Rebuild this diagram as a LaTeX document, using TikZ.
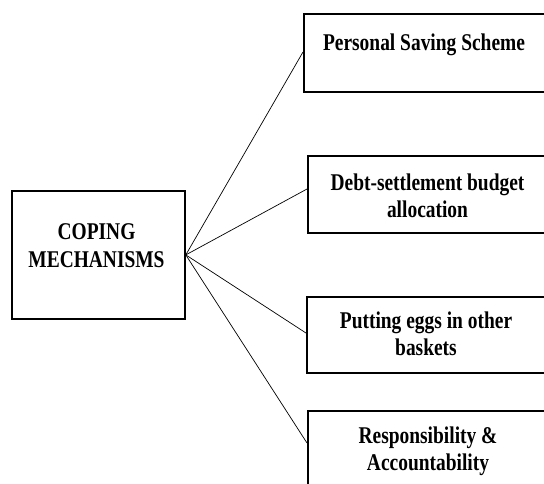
\documentclass[tikz,border=0pt]{standalone}
\usepackage{fontspec}
\setmainfont{Liberation Serif}[FakeStretch=0.81]
\usetikzlibrary{calc}
\begin{document}
\begin{tikzpicture}[x=1pt,y=-1pt,
  frame/.style={draw=black,line width=1.8pt,rectangle,inner sep=0pt,anchor=north west},
  label/.style={anchor=base,align=center,inner sep=0pt,
    font=\fontsize{24}{27}\selectfont\bfseries},
  link/.style={draw=black,line width=0.7pt}]
\useasboundingbox (0,0) rectangle (544,483);
\clip (0,0) rectangle (544,483);

% central box
\node[frame,minimum width=173pt,minimum height=128pt] (cope) at (11,190) {};
\node[label,font=\fontsize{24}{28}\selectfont\bfseries] (copetxt) at (96.5,267) {COPING\\MECHANISMS};

% strategy boxes (they run past the right edge)
\node[frame,minimum width=249pt,minimum height=78pt] (b1) at (303,13) {};
\node[frame,minimum width=245pt,minimum height=77pt] (b2) at (307,155) {};
\node[frame,minimum width=246pt,minimum height=76pt] (b3) at (306,296) {};
\node[frame,minimum width=245pt,minimum height=90pt] (b4) at (307,410) {};

% labels, placed by the baseline of their last line
\node[label] (t1) at (424,50) {Personal Saving Scheme};
\node[label] (t2) at (427.5,217) {Debt-settlement budget\\allocation};
\node[label] (t3) at (426,355) {Putting eggs in other\\baskets};
\node[label] (t4) at (428,470) {Responsibility \&\\Accountability};

% fan of connectors from the central box
\coordinate (hub) at (cope.east);
\coordinate (e1) at ($(b1.north west)+(0,39)$);
\coordinate (e2) at ($(b2.north west)+(0,34)$);
\coordinate (e3) at ($(b3.north west)+(0,37)$);
\coordinate (e4) at ($(b4.north west)+(0,33)$);
\foreach \e in {e1,e2,e3,e4} \draw[link] (hub) -- (\e);
\end{tikzpicture}
\end{document}
